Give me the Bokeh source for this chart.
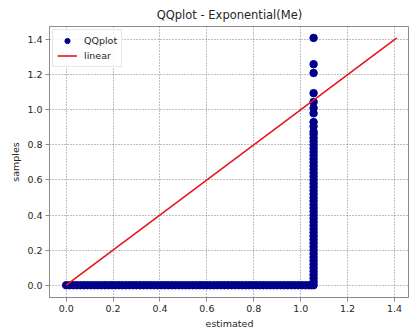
from bokeh.plotting import figure
from bokeh.models import FixedTicker, PrintfTickFormatter, Range1d, Legend, LegendItem
from bokeh.embed import file_html
from bokeh.resources import INLINE

# Estimated quantiles where the observed sample sits at zero
flat_estimated = [0.0, 0.015, 0.03, 0.045, 0.06, 0.075, 0.09, 0.105, 0.12, 0.135,
                  0.15, 0.165, 0.18, 0.195, 0.21, 0.225, 0.24, 0.255, 0.27, 0.285,
                  0.3, 0.315, 0.33, 0.345, 0.36, 0.375, 0.39, 0.405, 0.42, 0.435,
                  0.45, 0.465, 0.48, 0.495, 0.51, 0.525, 0.54, 0.555, 0.57, 0.585,
                  0.6, 0.615, 0.63, 0.645, 0.66, 0.675, 0.69, 0.705, 0.72, 0.735,
                  0.75, 0.765, 0.78, 0.795, 0.81, 0.825, 0.84, 0.855, 0.87, 0.885,
                  0.9, 0.915, 0.93, 0.945, 0.96, 0.975, 0.99, 1.005, 1.02, 1.035,
                  1.045, 1.055]
# Observed samples that all map to the top estimated quantile
tail_estimate = 1.055
tail_samples = [0.02, 0.04, 0.06, 0.08, 0.10, 0.12, 0.14, 0.16, 0.18, 0.20,
                0.22, 0.24, 0.26, 0.28, 0.30, 0.32, 0.34, 0.36, 0.38, 0.40,
                0.42, 0.44, 0.46, 0.48, 0.50, 0.52, 0.54, 0.56, 0.58, 0.60,
                0.62, 0.64, 0.66, 0.68, 0.70, 0.72, 0.74, 0.76, 0.78, 0.80,
                0.82, 0.84, 0.86, 0.875, 0.905, 0.93, 0.98, 1.01, 1.045,
                1.095, 1.21, 1.26, 1.41]
# Reference line y = x
linear_x = [0.0, 1.41]
linear_y = [0.0, 1.41]
tick_values = [0.0, 0.2, 0.4, 0.6, 0.8, 1.0, 1.2, 1.4]

estimated = flat_estimated + [tail_estimate] * len(tail_samples)
samples = [0.0] * len(flat_estimated) + tail_samples

FONT = "DejaVu Sans"
TEXT = "#262626"
SPINE = "#8c8c8c"

p = figure(width=409, height=331, output_backend="svg", toolbar_location=None,
           x_range=Range1d(-0.0712, 1.464), y_range=Range1d(-0.07, 1.475),
           min_border_left=49, min_border_right=0, min_border_top=26,
           min_border_bottom=33, background_fill_color="white",
           border_fill_color="white")

p.title.text = "QQplot - Exponential(Me)"
p.title.align = "center"
p.title.text_font = FONT
p.title.text_font_size = "11.5px"
p.title.text_font_style = "normal"
p.title.text_color = TEXT

pts = p.scatter(estimated, samples, size=7.5, color="#00008b")
ln = p.line(linear_x, linear_y, line_color="#e8141c", line_width=1.6)

for ax in (p.xaxis[0], p.yaxis[0]):
    ax.ticker = FixedTicker(ticks=tick_values)
    ax.formatter = PrintfTickFormatter(format="%.1f")
    ax.major_label_text_font = FONT
    ax.major_label_text_font_size = "9.5px"
    ax.major_label_text_color = TEXT
    ax.axis_label_text_font = FONT
    ax.axis_label_text_font_size = "9.5px"
    ax.axis_label_text_font_style = "normal"
    ax.axis_label_text_color = TEXT
    ax.axis_line_color = SPINE
    ax.major_tick_line_color = SPINE
    ax.major_tick_in = 0
    ax.major_tick_out = 4
    ax.minor_tick_line_color = None
    ax.major_label_standoff = 3
    ax.axis_label_standoff = 3

p.xaxis.axis_label = "estimated"
p.yaxis.axis_label = "samples"

p.outline_line_color = SPINE
p.grid.grid_line_color = "#3a3a3a"
p.grid.grid_line_dash = "1 2"
p.grid.grid_line_width = 0.8
p.grid.grid_line_alpha = 0.8
p.xgrid.ticker = FixedTicker(ticks=tick_values)
p.ygrid.ticker = FixedTicker(ticks=tick_values)

legend = Legend(items=[LegendItem(label="QQplot", renderers=[pts]),
                       LegendItem(label="linear", renderers=[ln])],
                location="top_left", margin=3, padding=4, spacing=2,
                glyph_width=20, glyph_height=13, label_standoff=7,
                label_text_font=FONT, label_text_font_size="9.5px",
                label_text_color=TEXT, label_height=13,
                border_line_color="#cccccc", background_fill_alpha=0.85)
p.add_layout(legend)

open("out.html", "w").write(file_html(p, INLINE))
